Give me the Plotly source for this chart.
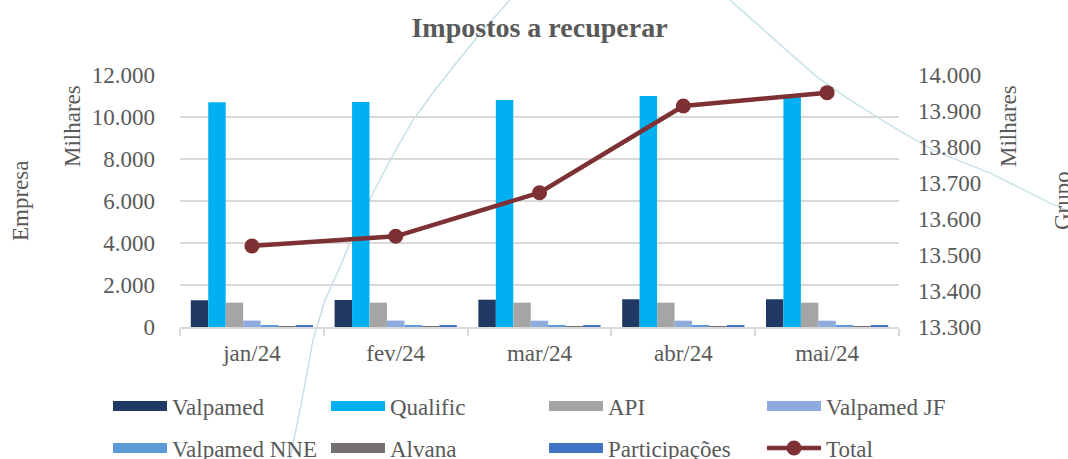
import plotly.graph_objects as go

# ---- data (values in thousands) ----
months = ["jan/24", "fev/24", "mar/24", "abr/24", "mai/24"]
valpamed = [1273, 1287, 1300, 1320, 1320]
qualific = [10698, 10713, 10808, 11000, 10940]
api = [1160, 1160, 1160, 1160, 1160]
valpamed_jf = [305, 305, 300, 300, 300]
valpamed_nne = [80, 75, 75, 75, 75]
alvana = [25, 25, 25, 25, 25]
participacoes = [80, 80, 80, 80, 80]
total = [13525, 13552, 13673, 13914, 13951]

left_ticks = [0, 2000, 4000, 6000, 8000, 10000, 12000]
right_ticks = [13300, 13400, 13500, 13600, 13700, 13800, 13900, 14000]

series = [
    ("Valpamed", valpamed, "#1F3864", "legend"),
    ("Qualific", qualific, "#00B0F0", "legend"),
    ("API", api, "#A5A5A5", "legend"),
    ("Valpamed JF", valpamed_jf, "#8FAADC", "legend"),
    ("Valpamed NNE", valpamed_nne, "#5B9BD5", "legend2"),
    ("Alvana", alvana, "#767171", "legend2"),
    ("Participações", participacoes, "#4472C4", "legend2"),
]

FONT = "Liberation Serif"
GREY = "#595959"
GRID = "#D9D9D9"
FS = 23

fig = go.Figure()
for name, vals, color, lg in series:
    fig.add_trace(go.Bar(x=months, y=vals, name=name, marker_color=color,
                         marker_line_width=0, showlegend=False,
                         legendgroup=name, yaxis="y"))
# legend entries with wide swatches
for name, vals, color, lg in series:
    fig.add_trace(go.Scatter(x=[None], y=[None], mode="lines", name=name,
                             line=dict(color=color, width=13),
                             legend=lg, legendgroup=name, showlegend=True,
                             hoverinfo="skip"))

fig.add_trace(go.Scatter(x=months, y=total, name="Total", yaxis="y2",
                         mode="lines+markers",
                         line=dict(color="#7D3134", width=4.5),
                         marker=dict(color="#7D3134", size=15),
                         legend="legend2"))

# ---- decorative background arcs (pixel -> paper) ----
def px(xp, yp):
    return (xp - 180) / 719, (327 - yp) / 252

def path(pts):
    s = ""
    for i, (a, b) in enumerate(pts):
        X, Y = px(a, b)
        s += ("M" if i == 0 else " L") + f" {X:.4f},{Y:.4f}"
    return s

arc1 = [(290, 459), (302, 400), (313, 340), (325, 300), (340, 267), (356, 228),
        (373, 193), (393, 155), (413, 120), (435, 90), (457, 62), (483, 30), (510, 0)]
arc2 = [(730, 0), (775, 40), (817, 77), (847, 98), (877, 117), (905, 134),
        (933, 150), (962, 162), (990, 173), (1020, 188), (1050, 203), (1068, 211)]
shapes = [dict(type="path", path=path(p), xref="paper", yref="paper",
               line=dict(color="#BFDCE8", width=1.3), layer="below")
          for p in (arc1, arc2)]

annotations = [
    dict(text="Milhares", x=(72 - 180) / 719, y=(327 - 83) / 252, xref="paper", yref="paper",
         textangle=-90, xanchor="center", yanchor="top", showarrow=False,
         font=dict(family=FONT, size=FS, color=GREY)),
    dict(text="Empresa", x=(20 - 180) / 719, y=0.5, xref="paper", yref="paper",
         textangle=-90, xanchor="center", yanchor="middle", showarrow=False,
         font=dict(family=FONT, size=FS, color=GREY)),
    dict(text="Milhares", x=(1008 - 180) / 719, y=(327 - 83) / 252, xref="paper", yref="paper",
         textangle=-90, xanchor="center", yanchor="top", showarrow=False,
         font=dict(family=FONT, size=FS, color=GREY)),
    dict(text="Grupo", x=(1062 - 180) / 719, y=0.5, xref="paper", yref="paper",
         textangle=-90, xanchor="center", yanchor="middle", showarrow=False,
         font=dict(family=FONT, size=FS, color=GREY)),
]

legend_common = dict(orientation="h", xanchor="left", yanchor="middle",
                     xref="paper", yref="paper",
                     entrywidth=149, entrywidthmode="pixels", itemwidth=54,
                     bgcolor="rgba(0,0,0,0)", font=dict(family=FONT, size=FS, color=GREY),
                     itemclick="toggle")

fig.update_layout(
    width=1068, height=459,
    margin=dict(l=180, r=169, t=75, b=132, autoexpand=False),
    paper_bgcolor="white", plot_bgcolor="white",
    separators=",.",
    barmode="group", bargap=0.15, bargroupgap=0,
    font=dict(family=FONT, color=GREY),
    title=dict(text="<b>Impostos a recuperar</b>", x=0.5, xref="paper",
               y=1 - 27 / 459, yref="container", xanchor="center", yanchor="middle",
               font=dict(family=FONT, size=28, color=GREY)),
    xaxis=dict(type="category", showline=True, linecolor=GRID, linewidth=1.5,
               ticks="outside", tickson="boundaries", ticklen=7, tickcolor=GRID, tickwidth=1.5,
               ticklabelstandoff=5,
               tickfont=dict(family=FONT, size=FS, color=GREY), showgrid=False),
    yaxis=dict(range=[0, 12000], tickvals=left_ticks, tickformat=",d",
               showgrid=True, gridcolor=GRID, gridwidth=1.5, zeroline=False,
               showline=False, ticks="", ticklabelstandoff=24,
               tickfont=dict(family=FONT, size=FS, color=GREY)),
    yaxis2=dict(range=[13300, 14000], tickvals=right_ticks, tickformat=",d",
                overlaying="y", side="right", showgrid=False, zeroline=False,
                showline=False, ticks="", ticklabelstandoff=18,
                tickfont=dict(family=FONT, size=FS, color=GREY)),
    legend=dict(x=(108 - 180) / 719, y=(327 - 406) / 252, **legend_common),
    legend2=dict(x=(108 - 180) / 719, y=(327 - 448) / 252, **legend_common),
    shapes=shapes,
    annotations=annotations,
)

fig.write_html("out.html", config={"displayModeBar": False},
               post_script="document.body.style.margin='0';document.body.style.padding='0';")
